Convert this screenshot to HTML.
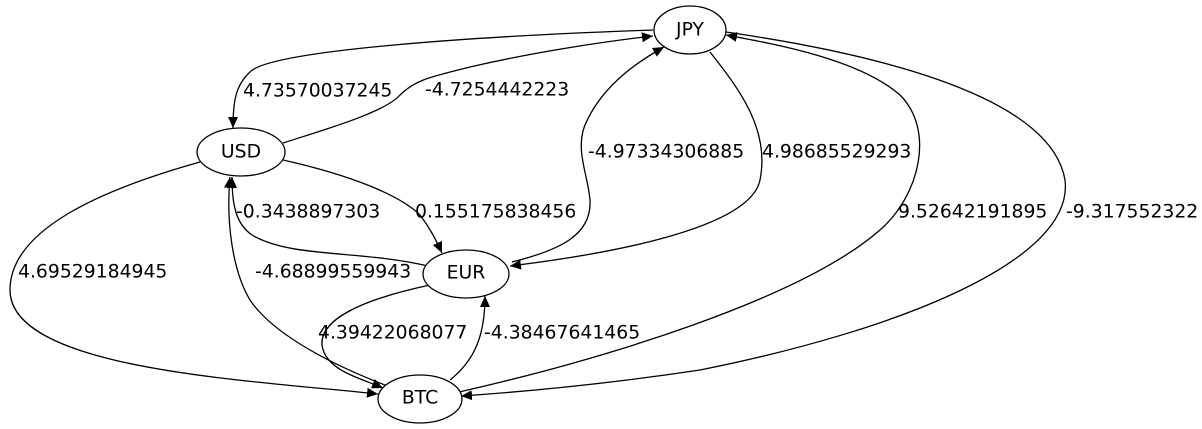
<!DOCTYPE html>
<html><head><meta charset="utf-8"><style>
html,body{margin:0;padding:0;background:#fff;}
svg{display:block;}
text{font-family:"DejaVu Sans","Liberation Sans",sans-serif;font-size:18.8px;fill:#000;dominant-baseline:central;}
</style></head><body>
<svg width="1202" height="429" viewBox="0 0 1202 429" xmlns="http://www.w3.org/2000/svg">
<defs>
<marker id="a" markerWidth="12" markerHeight="10" refX="11" refY="5" orient="auto" markerUnits="userSpaceOnUse">
<path d="M0,0 L11,5 L0,10 Z" fill="#000"/>
</marker>
</defs>
<g fill="none" stroke="#000" stroke-width="1.3">
<path marker-end="url(#a)" d="M653,30 C480,36 270,50 250,72 C236,85 233,100 233,128"/>
<path marker-end="url(#a)" d="M283,143 C330,128 385,112 400,95 C415,80 430,77 470,67 C530,53 600,42 653,36"/>
<path marker-end="url(#a)" d="M512,262 C560,250 592,235 590,200 C588,175 575,150 585,125 C600,90 630,66 664,47"/>
<path marker-end="url(#a)" d="M710,52 C740,90 770,130 760,180 C750,230 600,255 510,266"/>
<path marker-end="url(#a)" d="M283,160 C350,175 400,195 420,215 C430,228 436,240 442,253"/>
<path marker-end="url(#a)" d="M428,266 C360,250 290,258 252,235 C236,224 232,205 232,177"/>
<path marker-end="url(#a)" d="M200,162 C100,190 10,230 10,290 C10,370 250,380 378,394"/>
<path marker-end="url(#a)" d="M385,385 C320,360 270,330 250,300 C232,270 226,220 230,177"/>
<path marker-end="url(#a)" d="M430,285 C360,300 320,320 322,345 C325,370 360,378 383,388"/>
<path marker-end="url(#a)" d="M450,380 C475,360 485,335 485,296"/>
<path marker-end="url(#a)" d="M459,392 C600,360 800,300 880,230 C920,195 935,130 900,95 C860,60 780,45 726,35"/>
<path marker-end="url(#a)" d="M726,32 C850,50 1050,90 1065,180 C1075,260 900,330 700,370 C600,385 520,392 461,396"/>
</g>
<g fill="#fff" stroke="#000" stroke-width="1.3">
<ellipse cx="690" cy="30" rx="36" ry="24"/>
<ellipse cx="241" cy="152" rx="44" ry="24"/>
<ellipse cx="466" cy="274" rx="43" ry="24"/>
<ellipse cx="420" cy="399" rx="42" ry="24"/>
</g>
<g text-anchor="middle">
<text x="690" y="30">JPY</text>
<text x="241" y="152">USD</text>
<text x="466" y="273">EUR</text>
<text x="420" y="398">BTC</text>
</g>
<text x="243" y="91">4.73570037245</text>
<text x="425" y="90">-4.7254442223</text>
<text x="588" y="152">-4.97334306885</text>
<text x="762" y="152">4.98685529293</text>
<text x="236" y="212">-0.3438897303</text>
<text x="415" y="212">0.155175838456</text>
<text x="898" y="212">9.52642191895</text>
<text x="1066" y="212">-9.317552322</text>
<text x="18" y="272">4.69529184945</text>
<text x="255" y="272">-4.68899559943</text>
<text x="318" y="333">4.39422068077</text>
<text x="484" y="333">-4.38467641465</text>
</svg>
</body></html>
